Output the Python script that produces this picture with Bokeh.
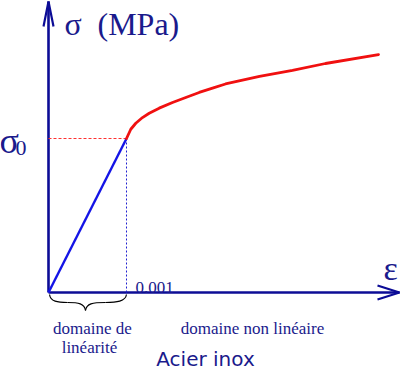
from bokeh.plotting import figure
from bokeh.models import Range1d
from bokeh.core.properties import value
from bokeh.embed import file_html
from bokeh.resources import INLINE

# ---- data (strain, stress normalised by sigma0) ----
eps_lin = [0.0, 0.001]
sig_lin = [0.0, 1.0]
eps_nl = [0.001, 0.001055, 0.001119, 0.001205, 0.001291, 0.001419, 0.001590, 0.001760,
          0.001932, 0.002103, 0.002269, 0.002705, 0.003128, 0.003551, 0.004231]
sig_nl = [1.0, 1.060, 1.099, 1.136, 1.164, 1.197, 1.234, 1.266,
          1.299, 1.327, 1.354, 1.403, 1.442, 1.487, 1.545]
eps_yield = 0.001
sig_yield = 1.0
tick_label = "0.001"

# ---- layout helpers (page pixel -> data) ----
K = 0.001 / 78.0
def X(px):
    return (px - 56) * K
def Y(py):
    return (300 - py) / 154.0

AXIS = "#0c0c96"
TXT = "#1a1a8c"

p = figure(width=400, height=370, output_backend="svg", toolbar_location=None,
           x_range=Range1d(X(8), X(408)), y_range=Range1d(Y(378), Y(8)),
           min_border=0, outline_line_color=None)
p.axis.visible = False
p.grid.visible = False
p.background_fill_color = "white"
p.border_fill_color = "white"

# axes
p.line([0, 0], [0, Y(9)], line_color=AXIS, line_width=2.6)
p.line([0, X(407)], [0, 0], line_color=AXIS, line_width=2.6)
p.line([X(51), 0, X(61)], [Y(34), Y(9), Y(34)], line_color=AXIS, line_width=2.2)
p.line([X(385), X(407), X(385)], [Y(293), Y(300), Y(307)], line_color=AXIS, line_width=2.2)

# guides
p.line([0, eps_yield], [sig_yield, sig_yield], line_color="#ff3030", line_width=1, line_dash="3 2")
p.line([eps_yield, eps_yield], [0, sig_yield], line_color="#2020d0", line_width=1, line_dash="2 2")

# curves
p.line(eps_lin, sig_lin, line_color="#1414e6", line_width=2.4)
p.line(eps_nl, sig_nl, line_color="#f01010", line_width=2.8, line_join="round", line_cap="round")

# brace
p.bezier(x0=[X(57), X(75), X(93), X(113)], y0=[Y(302), Y(310), Y(318), Y(310)],
         x1=[X(75), X(93), X(113), X(134)], y1=[Y(310), Y(318), Y(310), Y(302)],
         cx0=[X(58), X(86), X(94), X(124)], cy0=[Y(309), Y(310), Y(311), Y(310)],
         cx1=[X(65), X(92), X(100), X(133)], cy1=[Y(310), Y(311), Y(310), Y(309)],
         line_color="black", line_width=1.2)

def txt(x, y, s, size, font="Liberation Serif", align="left", color=TXT):
    p.text(x=[x], y=[y], text=[s], text_font=value(font), text_font_size=f"{size}px",
           text_color=color, text_align=align, text_baseline="alphabetic")

txt(X(72), Y(31), "σ", 32)
txt(X(105), Y(31), "(MPa)", 32)
txt(X(7), Y(148), "σ", 36)
txt(X(23), Y(155), "0", 22)
txt(X(391), Y(276), "ε", 34)
txt(X(143), Y(295), tick_label, 17)
txt(X(100), Y(336), "domaine de", 17, align="center")
txt(X(97), Y(355), "linéarité", 17, align="center")
txt(X(260), Y(336), "domaine non linéaire", 17, align="center")
txt(X(213), Y(366), "Acier inox", 20, font="DejaVu Sans", align="center")

open("out.html", "w").write(file_html(p, INLINE))
